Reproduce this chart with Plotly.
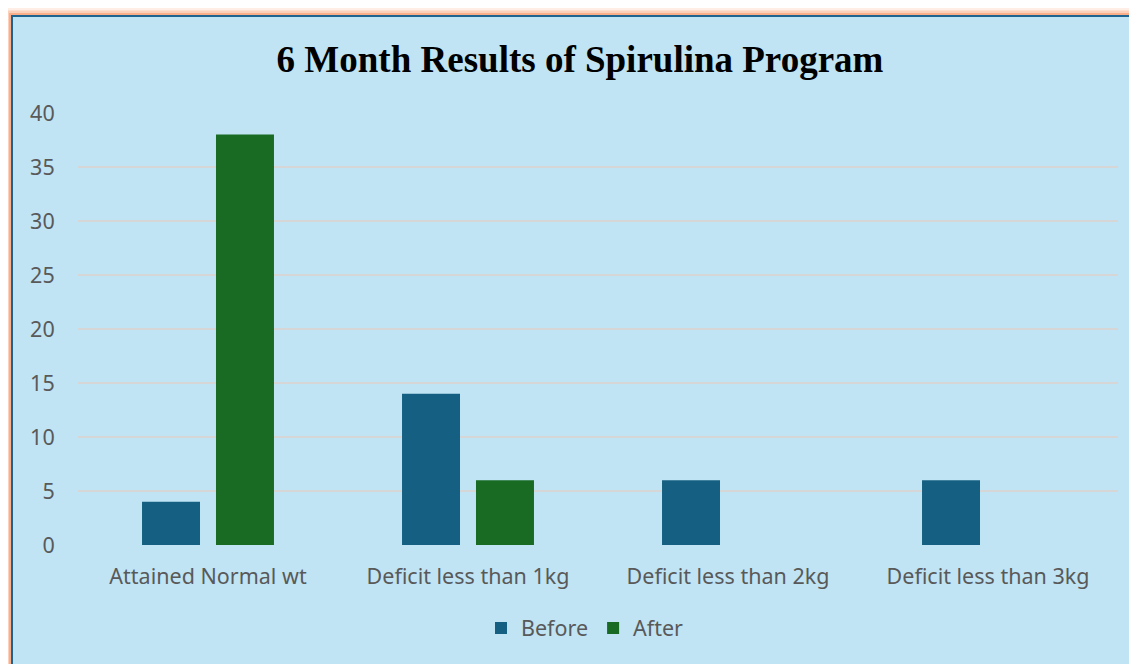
import plotly.graph_objects as go

categories = ["Attained Normal wt", "Deficit less than 1kg", "Deficit less than 2kg", "Deficit less than 3kg"]
before = [4, 14, 6, 6]
after = [38, 6, 0, 0]
y_ticks = [0, 5, 10, 15, 20, 25, 30, 35, 40]

OFF = 8  # page body margin
W, H = 1137, 664 - OFF
# plot area in page pixels
L, R, T, B = 78 - OFF, 1118 - OFF, 113 - OFF, 545 - OFF

def px(x):
    return (x - OFF - L) / (R - L)

def py(y):
    return (B - (y - OFF)) / (B - T)

label_font = dict(family="'Noto Sans', 'Open Sans', sans-serif", size=21.5, color="#595959")

fig = go.Figure()
fig.add_trace(go.Bar(name="Before", x=categories, y=before,
                     marker=dict(color="#156082", line=dict(width=0))))
fig.add_trace(go.Bar(name="After", x=categories, y=after,
                     marker=dict(color="#196B24", line=dict(width=0))))

shapes = []
# orange glow
for w, op in [(16, 0.15), (11, 0.3), (6, 0.5)]:
    shapes.append(dict(type="rect", xref="paper", yref="paper", layer="below",
                       x0=px(12), x1=px(1300), y0=py(800), y1=py(16),
                       line=dict(color=f"rgba(250,140,90,{op})", width=w),
                       fillcolor="rgba(0,0,0,0)"))
shapes.append(dict(type="rect", xref="paper", yref="paper", layer="below",
                   x0=px(12), x1=px(1300), y0=py(800), y1=py(16),
                   line=dict(color="#1F6491", width=2), fillcolor="#C0E4F4"))

fig.update_layout(
    width=W, height=H,
    margin=dict(l=L, r=W - R, t=T, b=H - B, pad=0),
    paper_bgcolor="white",
    plot_bgcolor="rgba(0,0,0,0)",
    barmode="group",
    bargap=0.431,
    bargroupgap=0.216,
    shapes=shapes,
    title=dict(text="<b>6 Month Results of Spirulina Program</b>",
               font=dict(family="'Liberation Serif', 'Times New Roman', serif", size=37, color="black"),
               xref="container", yref="container",
               x=(580 - OFF) / W, xanchor="center", y=1 - (59 - OFF) / H, yanchor="middle"),
    legend=dict(orientation="h", x=px(585), xanchor="center", y=py(628), yanchor="middle",
                font=label_font, bgcolor="rgba(0,0,0,0)", itemwidth=30, traceorder="normal"),
    xaxis=dict(showgrid=False, showline=False, zeroline=False, tickfont=label_font,
               ticks="outside", ticklen=12, tickcolor="rgba(0,0,0,0)"),
    yaxis=dict(range=[0, 40], tickvals=y_ticks, showgrid=True, gridcolor="#D6D6D6", gridwidth=2,
               zeroline=False, showline=False, tickfont=label_font,
               ticks="outside", ticklen=18, tickcolor="rgba(0,0,0,0)"),
)

fig.write_html("out.html")
